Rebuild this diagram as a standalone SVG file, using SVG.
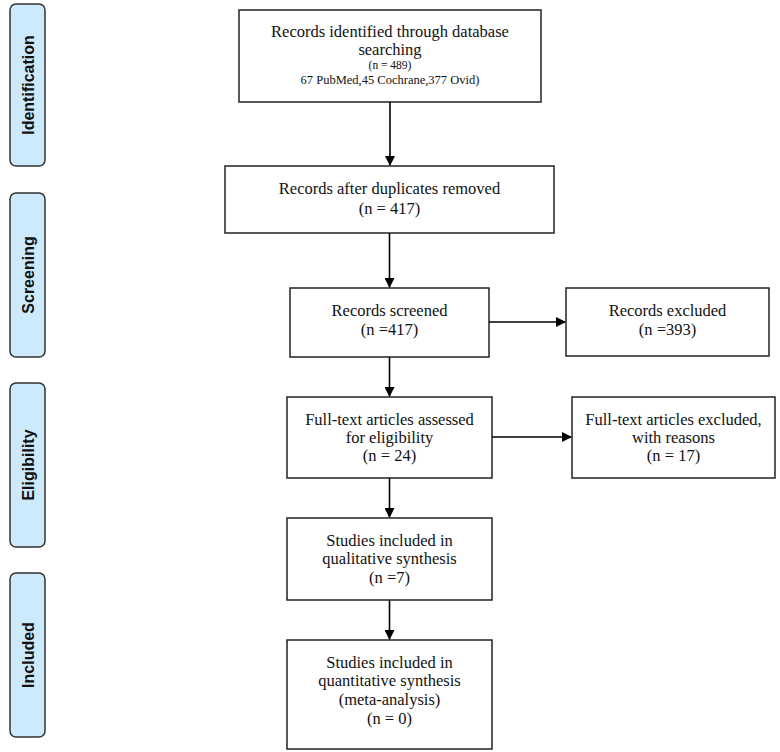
<svg xmlns="http://www.w3.org/2000/svg" width="780" height="752" viewBox="0 0 780 752">
<defs>
<marker id="ah" markerWidth="10" markerHeight="10" refX="9" refY="5" orient="auto" markerUnits="userSpaceOnUse">
<path d="M0,0 L10,5 L0,10 Z" fill="#000"/>
</marker>
<style>
.box{fill:#fff;stroke:#222;stroke-width:1.5}
.lab{fill:#cdeafc;stroke:#333;stroke-width:1.5}
.t{font-family:"Liberation Serif","Times New Roman",serif;font-size:16.5px;fill:#111;text-anchor:middle}
.s{font-family:"Liberation Serif","Times New Roman",serif;font-size:11.5px;fill:#111;text-anchor:middle}
.s2{font-family:"Liberation Serif","Times New Roman",serif;font-size:12.5px;fill:#111;text-anchor:middle}
.lt{font-family:"Liberation Sans",Arial,sans-serif;font-size:16px;font-weight:bold;fill:#111;text-anchor:middle;dominant-baseline:central}
.c{stroke:#000;stroke-width:1.6;fill:none;marker-end:url(#ah)}
</style>
</defs>
<rect width="780" height="752" fill="#fff"/>

<g id="stage-identification">
<rect class="lab" x="10" y="4" width="35" height="162" rx="6"/>
<text class="lt" transform="translate(28,85) rotate(-90)">Identification</text>
</g>
<g id="stage-screening">
<rect class="lab" x="10" y="193" width="35" height="164" rx="6"/>
<text class="lt" transform="translate(28,275) rotate(-90)">Screening</text>
</g>
<g id="stage-eligibility">
<rect class="lab" x="10" y="383" width="35" height="164" rx="6"/>
<text class="lt" transform="translate(28,465) rotate(-90)">Eligibility</text>
</g>
<g id="stage-included">
<rect class="lab" x="10" y="573" width="35" height="164" rx="6"/>
<text class="lt" transform="translate(28,655) rotate(-90)">Included</text>
</g>

<g id="identified">
<rect class="box" x="239" y="10" width="302" height="92"/>
<text class="t" x="390" y="37">Records identified through database</text>
<text class="t" x="390" y="55">searching</text>
<text class="s" x="390" y="69">(n = 489)</text>
<text class="s2" x="390" y="84">67 PubMed,45 Cochrane,377 Ovid)</text>
</g>
<g id="deduplicated">
<rect class="box" x="225" y="166" width="329" height="67"/>
<text class="t" x="389.5" y="194">Records after duplicates removed</text>
<text class="t" x="389.5" y="214">(n = 417)</text>
</g>
<g id="screened">
<rect class="box" x="290" y="288" width="199" height="69"/>
<text class="t" x="389.5" y="316">Records screened</text>
<text class="t" x="389.5" y="335">(n =417)</text>
</g>
<g id="excluded">
<rect class="box" x="566" y="288" width="203" height="68"/>
<text class="t" x="667.5" y="316">Records excluded</text>
<text class="t" x="667.5" y="335">(n =393)</text>
</g>
<g id="fulltext">
<rect class="box" x="287" y="397" width="205" height="81"/>
<text class="t" x="389.5" y="425">Full-text articles assessed</text>
<text class="t" x="389.5" y="443">for eligibility</text>
<text class="t" x="389.5" y="461">(n = 24)</text>
</g>
<g id="fulltext-excluded">
<rect class="box" x="572" y="397" width="203" height="81"/>
<text class="t" x="673.5" y="425">Full-text articles excluded,</text>
<text class="t" x="673.5" y="443">with reasons</text>
<text class="t" x="673.5" y="461">(n = 17)</text>
</g>
<g id="qualitative">
<rect class="box" x="287" y="518" width="205" height="82"/>
<text class="t" x="389.5" y="546">Studies included in</text>
<text class="t" x="389.5" y="564">qualitative synthesis</text>
<text class="t" x="389.5" y="583">(n =7)</text>
</g>
<g id="quantitative">
<rect class="box" x="287" y="640" width="205" height="109"/>
<text class="t" x="389.5" y="668">Studies included in</text>
<text class="t" x="389.5" y="686">quantitative synthesis</text>
<text class="t" x="389.5" y="705">(meta-analysis)</text>
<text class="t" x="389.5" y="724">(n = 0)</text>
</g>

<g id="connectors">
<line class="c" x1="390" y1="102" x2="390" y2="165"/>
<line class="c" x1="389.5" y1="233" x2="389.5" y2="287"/>
<line class="c" x1="389.5" y1="357" x2="389.5" y2="396"/>
<line class="c" x1="389.5" y1="478" x2="389.5" y2="517"/>
<line class="c" x1="389.5" y1="600" x2="389.5" y2="639"/>
<line class="c" x1="489" y1="322" x2="565" y2="322"/>
<line class="c" x1="492" y1="437" x2="571" y2="437"/>
</g>
</svg>
